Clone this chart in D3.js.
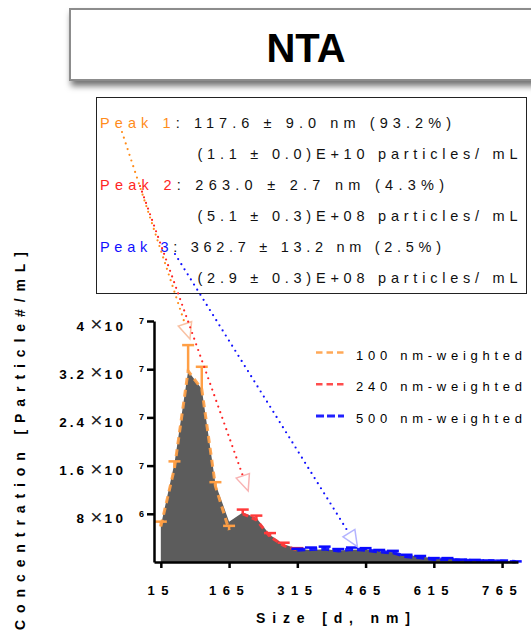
<!DOCTYPE html>
<html>
<head>
<meta charset="utf-8">
<script src="https://cdn.jsdelivr.net/npm/d3@7"></script>
<style>
	body	{margin:0;background:#fff;}
	svg	{display:block;font-family:"Liberation Sans",Arial,sans-serif;}
</style>
</head>
<body>
<svg id="chart" width="531" height="640"></svg>
<script>
// size bins (nm) and mean concentration (particles/mL) - grey area
var sizes	= [15,45,75,105,135,165,195,225,255,285,315,345,375,405,435,465,495,525,555,585,615,645,675,705,735,765,795];
var meanConc	= [6.0e6,16.4e6,31.7e6,28.7e6,13.0e6,6.7e6,8.2e6,7.3e6,4.5e6,2.95e6,2.2e6,2.0e6,2.1e6,1.9e6,2.05e6,2.1e6,1.8e6,1.6e6,1.1e6,0.95e6,0.6e6,0.55e6,0.4e6,0.32e6,0.25e6,0.18e6,0.1e6];

// weighted series
var w100Sizes	= [15,45,75,105,135,165];
var w100Conc	= [5.9e6,15.6e6,31.7e6,28.7e6,12.6e6,5.3e6];
var w100Err	= [0.8e6,1.1e6,4.3e6,3.7e6,0.65e6,0.7e6];
var w240Sizes	= [195,225,255,285,315];
var w240Conc	= [8.0e6,7.0e6,4.2e6,2.7e6,2.0e6];
var w240Err	= [0.7e6,0.7e6,0.6e6,0.5e6,0.3e6];
var w500Sizes	= [315,345,375,405,435,465,495,525,555,585,615,645,675,705,735,765,795];
var w500Conc	= [2.0e6,2.1e6,2.2e6,1.85e6,2.1e6,2.0e6,1.7e6,1.55e6,0.9e6,0.75e6,0.45e6,0.45e6,0.25e6,0.2e6,0.15e6,0.12e6,0.05e6];
var w500Err	= [0.2e6,0.3e6,0.35e6,0.3e6,0.3e6,0.3e6,0.3e6,0.3e6,0.3e6,0.25e6,0.2e6,0.2e6,0.15e6,0.15e6,0.1e6,0.1e6,0.05e6];

var xTicks	= [15,165,315,465,615,765];
var yTicks	= [8e6,1.6e7,2.4e7,3.2e7,4e7];
var yTickMant	= ["8","1.6","2.4","3.2","4"];
var yTickExp	= ["6","7","7","7","7"];

var legendLabels= ["100 nm-weighted","240 nm-weighted","500 nm-weighted"];
var peakNames	= ["Peak 1","Peak 2","Peak 3"];
var peakSizes	= [": 117.6 \u00b1 9.0 nm (93.2%)",":  263.0 \u00b1 2.7 nm (4.3%)",": 362.7 \u00b1 13.2 nm (2.5%)"];
var peakCounts	= ["(1.1 \u00b1 0.0)E+10 particles/ mL","(5.1 \u00b1 0.3)E+08 particles/ mL","(2.9 \u00b1 0.3)E+08 particles/ mL"];
var peakTipSize	= [79,207,447];
var peakTipConc	= [3.7e7,1.18e7,2.54e6];

var colors	= ["#ff8c1a","#ff2424","#1010ff"],
	lineCols= ["#ff9f45","#ff3a3a","#0a0aff"],
	headCols= ["#f9c2a4","#f8b4b4","#b4b4ff"];

var svg	= d3.select("#chart"),
	x	= d3.scaleLinear().domain([0,800]).range([154,518]),
	y	= d3.scaleLinear().domain([0,4e7]).range([562,321]);

// spread a text so its glyphs cover a given width
function spread(sel, width) {
	sel.each(function() {
		var n = this.getNumberOfChars(), len = this.getComputedTextLength();
		d3.select(this).style("letter-spacing", ((width-len)/(n-1))+"px");
	});
}

// title box
var defs = svg.append("defs");
defs.append("filter").attr("id","shadow").attr("x","-5%").attr("y","-20%").attr("width","115%").attr("height","160%")
	.append("feDropShadow").attr("dx",2).attr("dy",5).attr("stdDeviation",3).attr("flood-color","#000").attr("flood-opacity",0.55);
svg.append("rect").attr("x",70).attr("y",9).attr("width",490).attr("height",71)
	.attr("fill","#fff").attr("stroke","#8c8c8c").attr("stroke-width",2).attr("filter","url(#shadow)");
svg.append("text").attr("x",306).attr("y",62).attr("text-anchor","middle")
	.style("font-size","40px").style("font-weight","bold").text("NTA");

// grey area
var area = d3.area().x(function(d,i){return x(sizes[i]);}).y0(y(0)).y1(function(d){return y(d);});
svg.append("path").datum(meanConc).attr("d",area).attr("fill","#5c5c5c");

// weighted series with error bars
var series = [
	{s:w100Sizes, c:w100Conc, e:w100Err, dash:"7,5", w:3},
	{s:w240Sizes, c:w240Conc, e:w240Err, dash:"6,4", w:3},
	{s:w500Sizes, c:w500Conc, e:w500Err, dash:"8,4", w:3.5}
];
series.forEach(function(sr, k) {
	var g = svg.append("g"),
		pts = sr.s.map(function(v,i){return [v, sr.c[i], sr.e[i]];});
	g.append("path").datum(pts)
		.attr("d", d3.line().x(function(d){return x(d[0]);}).y(function(d){return y(d[1]);}))
		.attr("fill","none").attr("stroke",lineCols[k]).attr("stroke-width",sr.w)
		.attr("stroke-dasharray",sr.dash).attr("opacity",0.92);
	var eb = g.selectAll(".eb").data(pts).enter().append("g").attr("class","eb")
		.attr("stroke",lineCols[k]).attr("stroke-width",2.5);
	eb.append("line").attr("x1",function(d){return x(d[0]);}).attr("x2",function(d){return x(d[0]);})
		.attr("y1",function(d){return y(d[1]);}).attr("y2",function(d){return y(d[1]+d[2]);});
	eb.append("line").attr("x1",function(d){return x(d[0])-6;}).attr("x2",function(d){return x(d[0])+6;})
		.attr("y1",function(d){return y(d[1]+d[2]);}).attr("y2",function(d){return y(d[1]+d[2]);});
});

// axes
var yAxis = svg.append("g").attr("transform","translate("+x(0)+",0)")
	.call(d3.axisLeft(y).tickValues(yTicks).tickFormat("").tickSize(7).tickSizeOuter(0));
var xAxis = svg.append("g").attr("transform","translate(0,"+y(0)+")")
	.call(d3.axisBottom(x).tickValues(xTicks).tickSize(6).tickSizeOuter(0));
svg.selectAll(".domain, .tick line").attr("stroke","#000").attr("stroke-width",2.5);
xAxis.selectAll("text").attr("dy",null).attr("y",33).attr("fill","#000")
	.style("font-family","'Liberation Sans',Arial,sans-serif")
	.style("font-size","13px").style("font-weight","bold").style("letter-spacing","6.5px");

// y tick labels: mantissa, big times sign, 10 and a superscript exponent
yTicks.forEach(function(v,i) {
	var ty = y(v);
	svg.append("text").attr("x",87).attr("y",ty+9.5).attr("text-anchor","end")
		.style("font-size","13.5px").style("font-weight","bold").style("letter-spacing","3px")
		.text(yTickMant[i]);
	svg.append("text").attr("x",96.5).attr("y",ty+10).attr("text-anchor","middle")
		.style("font-size","21px").style("fill","#222").text("\u00d7");
	svg.append("text").attr("x",104.5).attr("y",ty+9.5)
		.style("font-size","13.5px").style("font-weight","bold").style("letter-spacing","3.5px")
		.text("10");
	svg.append("text").attr("x",139).attr("y",ty+3)
		.style("font-size","9px").style("font-weight","bold").text(yTickExp[i]);
});

// axis titles
svg.append("text").attr("transform","translate(25,630) rotate(-90)")
	.style("font-size","14px").style("font-weight","bold")
	.text("Concentration [Particle#/mL]").call(spread,378);
svg.append("text").attr("x",256).attr("y",623)
	.style("font-size","14px").style("font-weight","bold")
	.text("Size [d, nm]").call(spread,154);

// legend
legendLabels.forEach(function(l,i) {
	var ly = 352.5 + i*31.7;
	svg.append("line").attr("x1",316).attr("x2",344).attr("y1",ly).attr("y2",ly)
		.attr("stroke",lineCols[i]).attr("stroke-width",i==2?3:2.5)
		.attr("stroke-dasharray",i==2?"8,3":"6.5,4").attr("opacity",0.9);
	svg.append("text").attr("x",356).attr("y",ly+7)
		.style("font-size","13px").text(l).call(spread,166);
});

// peak info box
svg.append("rect").attr("x",96.5).attr("y",97.5).attr("width",430).attr("height",196)
	.attr("fill","none").attr("stroke","#222").attr("stroke-width",1);
peakNames.forEach(function(p,i) {
	var t = svg.append("text").attr("x",100).attr("y",128+i*62).style("font-size","14.5px");
	t.append("tspan").attr("fill",colors[i]).text(p);
	t.append("tspan").attr("fill","#111").text(peakSizes[i]);
	t.call(spread,[351,344,341][i]);
	svg.append("text").attr("x",197.5).attr("y",159+i*62).style("font-size","14.5px").attr("fill","#111")
		.text(peakCounts[i]).call(spread,320);
});

// dotted pointers from peak labels to the peaks
var starts = [[122,132],[140,186],[175,254]];
starts.forEach(function(s,i) {
	var tx = x(peakTipSize[i]), ty = y(peakTipConc[i]),
		dx = tx-s[0], dy = ty-s[1], len = Math.sqrt(dx*dx+dy*dy),
		ux = dx/len, uy = dy/len, L = 16, W = 7,
		bx = tx-L*ux, by = ty-L*uy;
	svg.append("line").attr("x1",s[0]).attr("y1",s[1]).attr("x2",bx).attr("y2",by)
		.attr("stroke",colors[i]).attr("stroke-width",2.2).attr("stroke-linecap","round")
		.attr("stroke-dasharray","0,6");
	svg.append("path")
		.attr("d","M"+(bx+W*uy)+","+(by-W*ux)+"L"+tx+","+ty+"L"+(bx-W*uy)+","+(by+W*ux)+"Z")
		.attr("fill","none").attr("stroke",headCols[i]).attr("stroke-width",1.5);
});
</script>
</body>
</html>
